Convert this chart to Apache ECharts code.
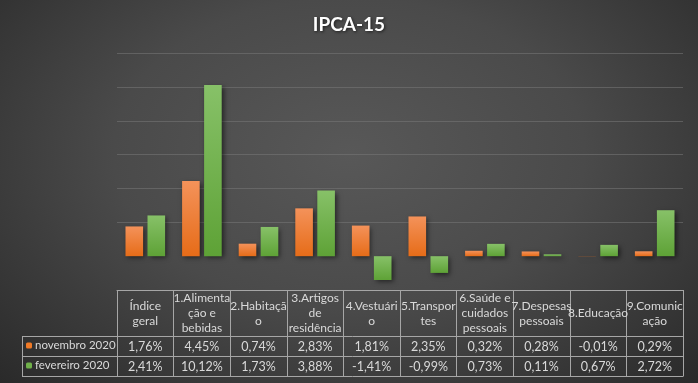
<!DOCTYPE html>
<html>
<head>
<meta charset="utf-8">
<script src="https://cdn.jsdelivr.net/npm/echarts@6/dist/echarts.min.js"></script>
<style>
html,body{margin:0;padding:0;}
#c{width:698px;height:383px;background:radial-gradient(ellipse 75% 90% at 50% 40%, #585858 0%, #4a4a4a 45%, #333333 80%, #262626 100%);}
</style>
</head>
<body>
<div id="c"></div>
<script>
const categories = ['Índice geral','1.Alimentação e bebidas','2.Habitação','3.Artigos de residência','4.Vestuário','5.Transportes','6.Saúde e cuidados pessoais','7.Despesas pessoais','8.Educação','9.Comunicação'];
const headerLabels = ['Índice\ngeral','1.Alimenta\nção e\nbebidas','2.Habitaçã\no','3.Artigos\nde\nresidência','4.Vestuári\no','5.Transpor\ntes','6.Saúde e\ncuidados\npessoais','7.Despesas\npessoais','8.Educação','9.Comunic\nação'];
const seriesNames = ['novembro 2020','fevereiro 2020'];
const nov2020 = [1.76, 4.45, 0.74, 2.83, 1.81, 2.35, 0.32, 0.28, -0.01, 0.29];
const fev2020 = [2.41, 10.12, 1.73, 3.88, -1.41, -0.99, 0.73, 0.11, 0.67, 2.72];
const yTicks = [-2, 0, 2, 4, 6, 8, 10, 12];

const fmt = v => v.toFixed(2).replace('.', ',') + '%';
const chart = echarts.init(document.getElementById('c'));
const gridLeft = 117, gridRight = 15, gridTop = 53.3, gridBottom = 93;
const W = 698, H = 383;
const lineColor = '#a6a6a6';
const txt = '#d9d9d9';
const font = 'Lato';

function grad(top, bottom) {
  return new echarts.graphic.LinearGradient(0, 0, 0, 1, [{offset: 0, color: top}, {offset: 1, color: bottom}]);
}
const orange = grad('#f4925a', '#e66c18');
const green = grad('#87c168', '#5ea236');

const gl = (x1, y1, x2, y2) => ({type: 'line', shape: {x1, y1, x2, y2}, style: {stroke: lineColor, lineWidth: 1}, silent: true});

const hiddenAxis = (labels, margin) => ({
  type: 'category', gridIndex: 0, position: 'bottom', data: labels,
  axisLine: {show: false, onZero: false}, axisTick: {show: false},
  axisLabel: {interval: 0, margin: margin, verticalAlign: 'middle', color: txt, fontFamily: font, fontSize: 12.5}
});

const legendCommon = {left: 26, itemWidth: 6, itemHeight: 6, itemGap: 0, padding: 0, selectedMode: false};

chart.setOption({
  backgroundColor: 'transparent',
  animation: false,
  title: {
    text: 'IPCA-15', left: 'center', top: 10,
    textStyle: {color: '#ffffff', fontFamily: font, fontWeight: 'bold', fontSize: 19,
      textShadowColor: 'rgba(0,0,0,0.6)', textShadowBlur: 3, textShadowOffsetX: 1, textShadowOffsetY: 1}
  },
  legend: [
    Object.assign({data: [seriesNames[0]], top: 339.5, itemStyle: {color: '#f07a26'},
      textStyle: {color: txt, fontFamily: font, fontSize: 11.5, padding: [0, 0, 0, -2]}}, legendCommon),
    Object.assign({data: [seriesNames[1]], top: 359.5, itemStyle: {color: '#70b04a'},
      textStyle: {color: txt, fontFamily: font, fontSize: 11.5, padding: [0, 0, 0, -2]}}, legendCommon)
  ],
  grid: {left: gridLeft, right: gridRight, top: gridTop, bottom: gridBottom, containLabel: false},
  xAxis: [
    {
      type: 'category', data: headerLabels, position: 'bottom',
      axisLine: {show: true, onZero: false, lineStyle: {color: lineColor, width: 1}},
      axisTick: {show: true, length: 86.5, lineStyle: {color: lineColor, width: 1}},
      axisLabel: {interval: 0, margin: 23.5, verticalAlign: 'middle', lineHeight: 15, color: txt, fontFamily: font, fontSize: 12}
    },
    hiddenAxis(nov2020.map(fmt), 56.5),
    hiddenAxis(fev2020.map(fmt), 76.5)
  ],
  yAxis: {
    type: 'value', min: yTicks[0], max: yTicks[yTicks.length - 1], interval: 2,
    axisLine: {show: false}, axisTick: {show: false}, axisLabel: {show: false},
    splitLine: {show: true, lineStyle: {width: 1, color: yTicks.map(v => v <= 0 ? 'rgba(0,0,0,0)' : 'rgba(120,120,120,0.55)')}}
  },
  series: [
    {name: seriesNames[0], type: 'bar', data: nov2020, barGap: '25%', barCategoryGap: '30%',
      itemStyle: {color: orange, shadowColor: 'rgba(0,0,0,0.55)', shadowBlur: 5, shadowOffsetX: 2, shadowOffsetY: 2}},
    {name: seriesNames[1], type: 'bar', data: fev2020, barGap: '25%', barCategoryGap: '30%',
      itemStyle: {color: green, shadowColor: 'rgba(0,0,0,0.55)', shadowBlur: 5, shadowOffsetX: 2, shadowOffsetY: 2}}
  ],
  graphic: [
    gl(22, 336.5, W - gridRight, 336.5),
    gl(22, 356.5, W - gridRight, 356.5),
    gl(22, 376.5, W - gridRight, 376.5),
    gl(22.5, 336.5, 22.5, 376.5)
  ]
});
</script>
</body>
</html>
